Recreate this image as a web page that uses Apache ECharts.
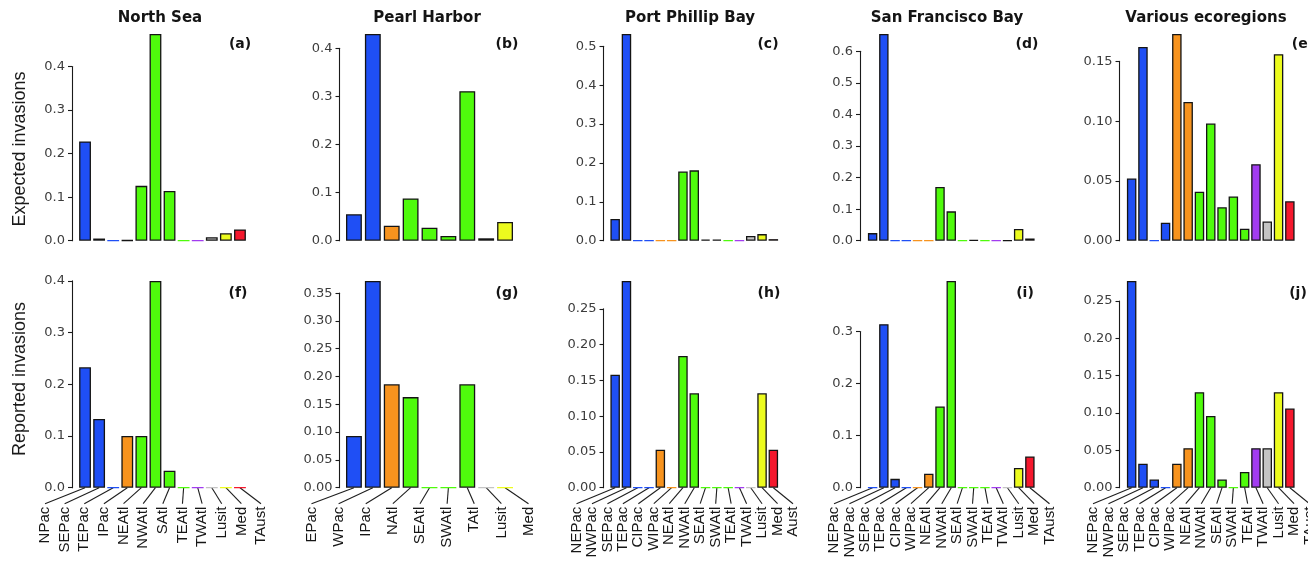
<!DOCTYPE html>
<html>
<head>
<meta charset="utf-8">
<script src="https://cdn.jsdelivr.net/npm/echarts@6/dist/echarts.min.js"></script>
<style>
  html, body { margin: 0; padding: 0; background: #ffffff; }
  #chart { width: 1308px; height: 562px; }
</style>
</head>
<body>
<div id="chart"></div>
<script>
// ---- Source-region categories for each recipient site ----
const catsNorthSea = ['NPac', 'SEPac', 'TEPac', 'IPac', 'NEAtl', 'NWAtl', 'SAtl', 'TEAtl', 'TWAtl', 'Lusit', 'Med', 'TAust'];
const groupsNorthSea = ['pac', 'pac', 'pac', 'ind', 'atl', 'atl', 'atl', 'atl', 'twa', 'lus', 'med', 'aus'];

const catsPearl = ['EPac', 'WPac', 'IPac', 'NAtl', 'SEAtl', 'SWAtl', 'TAtl', 'Lusit', 'Med'];
const groupsPearl = ['pac', 'pac', 'ind', 'atl', 'atl', 'atl', 'atl', 'lus', 'med'];

const catsPortPhillip = ['NEPac', 'NWPac', 'SEPac', 'TEPac', 'CIPac', 'WIPac', 'NEAtl', 'NWAtl', 'SEAtl', 'SWAtl', 'TEAtl', 'TWAtl', 'Lusit', 'Med', 'Aust'];
const catsFifteen = ['NEPac', 'NWPac', 'SEPac', 'TEPac', 'CIPac', 'WIPac', 'NEAtl', 'NWAtl', 'SEAtl', 'SWAtl', 'TEAtl', 'TWAtl', 'Lusit', 'Med', 'TAust'];
const groupsFifteen = ['pac', 'pac', 'pac', 'pac', 'ind', 'ind', 'atl', 'atl', 'atl', 'atl', 'atl', 'twa', 'lus', 'med', 'aus'];

// ---- Expected invasions (top row) ----
const expNorthSea = [0.228, 0.005, 0, 0.001, 0.126, 0.475, 0.114, 0, 0, 0.008, 0.017, 0.026];
const expPearl = [0.055, 0.430, 0.031, 0.088, 0.027, 0.010, 0.311, 0.005, 0.039];
const expPortPhillip = [0.056, 0.532, 0, 0, 0, 0, 0.178, 0.181, 0.003, 0.003, 0, 0, 0.012, 0.017, 0.004];
const expSanFrancisco = [0.024, 0.655, 0, 0, 0, 0, 0.170, 0.093, 0, 0.002, 0, 0, 0.001, 0.037, 0.007];
const expVarious = [0.052, 0.162, 0, 0.015, 0.173, 0.116, 0.041, 0.098, 0.028, 0.037, 0.010, 0.064, 0.016, 0.156, 0.033];

// ---- Reported invasions (bottom row) ----
const repNorthSea = [0.233, 0.133, 0, 0.100, 0.100, 0.400, 0.033, 0, 0, 0, 0, 0];
const repPearl = [0.093, 0.372, 0.186, 0.163, 0, 0, 0.186, 0, 0];
const repPortPhillip = [0.158, 0.289, 0, 0, 0.053, 0, 0.184, 0.132, 0, 0, 0, 0, 0, 0.132, 0.053];
const repSanFrancisco = [0, 0.314, 0.017, 0, 0, 0.027, 0.156, 0.397, 0, 0, 0, 0, 0, 0.038, 0.060];
const repVarious = [0.277, 0.032, 0.011, 0, 0.032, 0.053, 0.128, 0.096, 0.011, 0, 0.021, 0.053, 0.053, 0.128, 0.106];

// ---- Y tick settings per column ----
const expTickStep = [0.1, 0.1, 0.1, 0.1, 0.05];
const expTickMax = [0.4, 0.4, 0.5, 0.6, 0.15];
const repTickStep = [0.1, 0.05, 0.05, 0.1, 0.05];
const repTickMax = [0.4, 0.35, 0.25, 0.3, 0.25];

const siteTitles = ['North Sea', 'Pearl Harbor', 'Port Phillip Bay', 'San Francisco Bay', 'Various ecoregions'];
const expLetters = ['(a)', '(b)', '(c)', '(d)', '(e)'];
const repLetters = ['(f)', '(g)', '(h)', '(i)', '(j)'];
const rowNames = ['Expected invasions', 'Reported invasions'];

// ---- Styling / layout ----
const regionColors = {
  pac: '#1f4ff5', ind: '#f7931e', atl: '#4ffb0c', twa: '#a23cf0',
  lus: '#c4c4c4', med: '#ecfb1e', aus: '#f5182d'
};
const colLeft = [78, 344.5, 609.5, 867, 1126];
const colWidth = [169, 170, 169.5, 168.5, 169.5];
const axisOffset = [6, 5, 6, 7, 6.5];
const rowBaseline = [240.7, 487.7];
const plotHeight = 206.8;
const titleX = [160, 427, 690, 947, 1206];
const letterX = [240, 507, 768, 1027, 1303];
const letterXBottom = [238, 507, 769, 1025, 1298];

const panels = [
  { cats: catsNorthSea, groups: groupsNorthSea, rows: [expNorthSea, repNorthSea] },
  { cats: catsPearl, groups: groupsPearl, rows: [expPearl, repPearl] },
  { cats: catsPortPhillip, groups: groupsFifteen, rows: [expPortPhillip, repPortPhillip] },
  { cats: catsFifteen, groups: groupsFifteen, rows: [expSanFrancisco, repSanFrancisco] },
  { cats: catsFifteen, groups: groupsFifteen, rows: [expVarious, repVarious] }
];

const grids = [], xAxes = [], yAxes = [], series = [];
let k = 0;
for (let r = 0; r < 2; r++) {
  for (let c = 0; c < 5; c++) {
    const p = panels[c];
    const vals = p.rows[r];
    const step = r === 0 ? expTickStep[c] : repTickStep[c];
    const tickMax = r === 0 ? expTickMax[c] : repTickMax[c];
    const decimals = step < 0.1 ? 2 : 1;
    const maxV = Math.max.apply(null, vals);
    const base = rowBaseline[r];
    // tallest bar reaches the top of the plotting region; axis line stops at the last tick
    const gridTop = base - plotHeight * tickMax / maxV;

    grids.push({
      left: colLeft[c], width: colWidth[c], top: gridTop, height: base - gridTop,
      containLabel: false, outerBoundsMode: 'none'
    });
    xAxes.push({
      gridIndex: k, type: 'category', data: p.cats,
      axisLine: { show: false }, axisTick: { show: false }, axisLabel: { show: false },
      splitLine: { show: false }
    });
    yAxes.push({
      gridIndex: k, type: 'value', min: 0, max: tickMax, interval: step,
      offset: axisOffset[c],
      axisLine: { show: true, lineStyle: { color: '#1a1a1a', width: 1.1 } },
      axisTick: { show: true, length: 4, lineStyle: { color: '#1a1a1a', width: 1.1 } },
      axisLabel: {
        color: '#3c3c3c', fontFamily: 'DejaVu Sans', fontSize: 13, margin: 7,
        formatter: v => v.toFixed(decimals)
      },
      splitLine: { show: false }
    });
    series.push({
      type: 'bar', xAxisIndex: k, yAxisIndex: k,
      barCategoryGap: '16%', clip: false, silent: true,
      data: vals.map((v, i) => {
        const col = regionColors[p.groups[i]];
        return { value: v, itemStyle: { color: col, borderColor: v === 0 ? col : '#141414', borderWidth: 1.3 } };
      })
    });
    if (r === 1) {
      // rotated category labels, spread wider than the bars and joined by leader lines
      const n = p.cats.length;
      series.push({
        type: 'custom', xAxisIndex: k, yAxisIndex: k, clip: false, silent: true,
        data: p.cats.map((name, i) => [i, 0]),
        encode: { x: 0, y: 1 },
        renderItem: function (params, api) {
          const idx = api.value(0);
          const pt = api.coord([idx, 0]);
          const cs = params.coordSys;
          const left = cs.x - 33;
          const right = cs.x + cs.width + 14;
          const lx = left + (right - left) * idx / (n - 1);
          return {
            type: 'group',
            children: [
              {
                type: 'line',
                shape: { x1: pt[0], y1: pt[1], x2: lx, y2: pt[1] + 16 },
                style: { stroke: '#1e1e1e', lineWidth: 1.1 }
              },
              {
                type: 'text',
                x: lx, y: pt[1] + 19,
                rotation: Math.PI / 2,
                style: {
                  text: p.cats[idx], fill: '#161616',
                  font: '15px "Liberation Sans", Arial, sans-serif',
                  align: 'right', verticalAlign: 'middle',
                  textAlign: 'right', textVerticalAlign: 'middle'
                }
              }
            ]
          };
        }
      });
    }
    k++;
  }
}

// Column titles, panel letters and row axis names
const graphics = [];
for (let c = 0; c < 5; c++) {
  graphics.push({
    type: 'text', x: titleX[c], y: 18,
    style: {
      text: siteTitles[c], fill: '#141414', font: 'bold 15px "DejaVu Sans", sans-serif',
      align: 'center', verticalAlign: 'middle', textAlign: 'center', textVerticalAlign: 'middle'
    }
  });
  graphics.push({
    type: 'text', x: letterX[c], y: 44.5,
    style: {
      text: expLetters[c], fill: '#141414', font: 'bold 14px "DejaVu Sans", sans-serif',
      align: 'center', verticalAlign: 'middle', textAlign: 'center', textVerticalAlign: 'middle'
    }
  });
  graphics.push({
    type: 'text', x: letterXBottom[c], y: 293.5,
    style: {
      text: repLetters[c], fill: '#141414', font: 'bold 14px "DejaVu Sans", sans-serif',
      align: 'center', verticalAlign: 'middle', textAlign: 'center', textVerticalAlign: 'middle'
    }
  });
}
[149, 379].forEach((yc, r) => {
  graphics.push({
    type: 'text', x: 20, y: yc, rotation: Math.PI / 2,
    style: {
      text: rowNames[r], fill: '#1a1a1a', font: '18px "Liberation Sans", Arial, sans-serif',
      align: 'center', verticalAlign: 'middle', textAlign: 'center', textVerticalAlign: 'middle'
    }
  });
});

const chart = echarts.init(document.getElementById('chart'), null, { renderer: 'canvas' });
chart.setOption({
  animation: false,
  backgroundColor: '#ffffff',
  grid: grids,
  xAxis: xAxes,
  yAxis: yAxes,
  series: series,
  graphic: graphics
});
</script>
</body>
</html>
